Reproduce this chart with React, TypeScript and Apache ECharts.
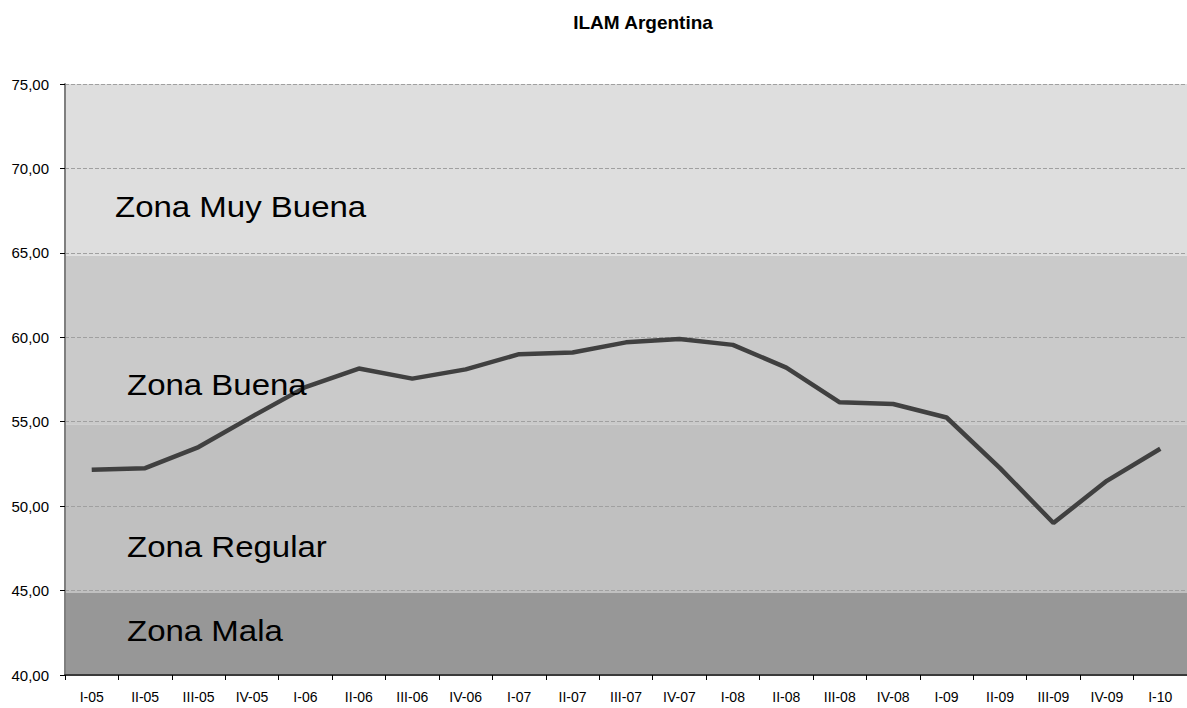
import React, { useEffect, useRef } from "react";
import * as echarts from "echarts";

const categories = [
  "I-05", "II-05", "III-05", "IV-05",
  "I-06", "II-06", "III-06", "IV-06",
  "I-07", "II-07", "III-07", "IV-07",
  "I-08", "II-08", "III-08", "IV-08",
  "I-09", "II-09", "III-09", "IV-09",
  "I-10",
];

const ilamValues = [
  52.15, 52.25, 53.5, 55.3,
  57.05, 58.15, 57.55, 58.1,
  59.0, 59.1, 59.7, 59.9,
  59.55, 58.2, 56.15, 56.05,
  55.25, 52.25, 49.0, 51.5,
  53.4,
];

const zoneNames = ["Zona Mala", "Zona Regular", "Zona Buena", "Zona Muy Buena"];
const zoneLower = [40, 44.85, 54.85, 64.85];
const zoneUpper = [44.85, 54.85, 64.85, 75];
const zoneColors = ["#979797", "#c0c0c0", "#cacaca", "#dedede"];

const yMin = 40;
const yMax = 75;
const yStep = 5;

const FONT = "'Liberation Sans', Arial, sans-serif";

export default function App() {
  const ref = useRef<HTMLDivElement>(null);

  useEffect(() => {
    document.body.style.margin = "0";
    if (!ref.current) return;
    const chart = echarts.init(ref.current, undefined, { renderer: "svg" });

    const zoneLabelPos = [
      { x: 127, y: 631 },
      { x: 127, y: 547 },
      { x: 127, y: 385 },
      { x: 115, y: 207 },
    ];

    chart.setOption({
      animation: false,
      backgroundColor: "#ffffff",
      textStyle: { fontFamily: FONT },
      grid: { left: 65, top: 84, bottom: 33, right: -12, containLabel: false },
      xAxis: {
        type: "category",
        data: categories,
        boundaryGap: true,
        z: 2,
        axisLine: { show: true, lineStyle: { color: "#3a3a3a", width: 2 } },
        axisTick: { show: true, length: 5, lineStyle: { color: "#000000", width: 1 }, alignWithLabel: false },
        axisLabel: { color: "#000000", fontSize: 14, margin: 15, fontFamily: FONT, interval: 0 },
        splitLine: { show: false },
      },
      yAxis: {
        type: "value",
        min: yMin,
        max: yMax,
        interval: yStep,
        z: 2,
        axisLine: { show: true, lineStyle: { color: "#7f7f7f", width: 2 } },
        axisTick: { show: true, length: 5, lineStyle: { color: "#000000", width: 1 } },
        axisLabel: {
          color: "#000000",
          fontSize: 15,
          margin: 16,
          fontFamily: FONT,
          formatter: (v: number) => v.toFixed(2).replace(".", ","),
        },
        splitLine: { show: true, lineStyle: { color: "#a0a0a0", type: [4, 2], width: 1 } },
      },
      series: [
        {
          type: "line",
          name: "ILAM Argentina",
          data: ilamValues,
          z: 3,
          symbol: "none",
          lineStyle: { color: "#404040", width: 4.5 },
          markArea: {
            silent: true,
            z: 1,
            label: { show: false },
            data: zoneNames.map((name, i) => [
              { name, yAxis: zoneLower[i], itemStyle: { color: zoneColors[i] } },
              { yAxis: zoneUpper[i] },
            ]),
          },
        },
      ],
      graphic: [
        {
          type: "text",
          x: 643,
          y: 22,
          style: {
            text: "ILAM Argentina",
            fill: "#000000",
            font: `bold 19px ${FONT}`,
            textAlign: "center",
            textVerticalAlign: "middle",
          },
        },
        ...zoneNames.map((name, i) => ({
          type: "text",
          x: zoneLabelPos[i].x,
          y: zoneLabelPos[i].y,
          scaleX: 1.1,
          z: 10,
          style: {
            text: name,
            fill: "#000000",
            font: `30px ${FONT}`,
            textAlign: "left",
            textVerticalAlign: "middle",
          },
        })),
      ],
    });

    return () => chart.dispose();
  }, []);

  return <div ref={ref} style={{ width: 1187, height: 708 }} />;
}
